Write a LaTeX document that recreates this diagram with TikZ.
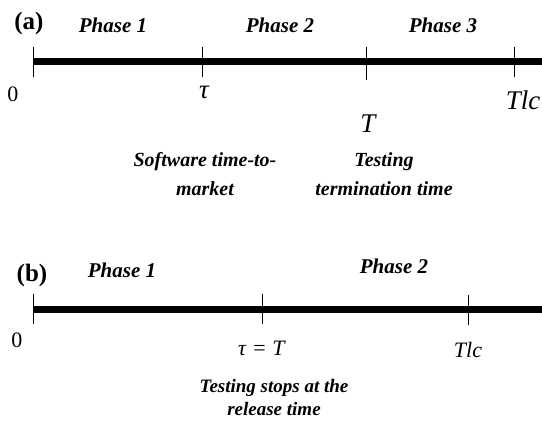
\documentclass[tikz,border=0pt]{standalone}
\usepackage{fontspec}
\setmainfont{Liberation Serif}
\begin{document}
\begin{tikzpicture}[x=1pt,y=-1pt,
  axis/.style={line width=7pt},
  tick/.style={line width=1pt},
  lab/.style={inner sep=0pt,anchor=base,font=\fontsize{21}{24}\selectfont\bfseries\itshape},
  panel/.style={inner sep=0pt,anchor=base,font=\fontsize{25}{28}\selectfont\bfseries},
  num/.style={inner sep=0pt,anchor=base,font=\fontsize{22}{24}\selectfont},
  mth/.style={inner sep=0pt,anchor=base,font=\fontsize{27}{30}\selectfont\itshape},
  mthb/.style={inner sep=0pt,anchor=base,font=\fontsize{22}{26}\selectfont},
  desca/.style={inner sep=0pt,anchor=base,align=center,font=\fontsize{20}{29}\selectfont\bfseries\itshape},
  descb/.style={inner sep=0pt,anchor=base,align=center,font=\fontsize{19}{22.5}\selectfont\bfseries\itshape}]
\useasboundingbox (0,0) rectangle (542,423);
% panel (a)
\coordinate (a0) at (33,61);
\coordinate (aend) at (542,61);
\draw[axis] (a0) -- (aend);
\coordinate (at0t) at (33,47); \coordinate (at0b) at (33,77);
\coordinate (at1t) at (202,47); \coordinate (at1b) at (202,77);
\coordinate (at2t) at (366,47); \coordinate (at2b) at (366,80);
\coordinate (at3t) at (514,47); \coordinate (at3b) at (514,77);
\draw[tick] (at0t) -- (at0b);
\draw[tick] (at1t) -- (at1b);
\draw[tick] (at2t) -- (at2b);
\draw[tick] (at3t) -- (at3b);
\node[panel] (pa) at (29,29) {(a)};
\node[lab] (ap1) at (113,32) {Phase 1};
\node[lab] (ap2) at (280,32) {Phase 2};
\node[lab] (ap3) at (443,32) {Phase 3};
\node[num] (a0l) at (13,101) {0};
\node[mth] (atau) at (204,98) {τ};
\node[mth] (aT) at (368,132) {T};
\node[mth] (aTlc) at (523,110) {Tlc};
\node[desca] (ad1) at (205,195) {Software time-to-\\market};
\node[desca] (ad2) at (384,195) {Testing\\termination time};
% panel (b)
\coordinate (b0) at (33,309);
\coordinate (bend) at (542,309);
\draw[axis] (b0) -- (bend);
\coordinate (bt0t) at (33,294); \coordinate (bt0b) at (33,324);
\coordinate (bt1t) at (262,294); \coordinate (bt1b) at (262,324);
\coordinate (bt2t) at (468,295); \coordinate (bt2b) at (468,325);
\draw[tick] (bt0t) -- (bt0b);
\draw[tick] (bt1t) -- (bt1b);
\draw[tick] (bt2t) -- (bt2b);
\node[panel] (pb) at (32,281) {(b)};
\node[lab] (bp1) at (122,277) {Phase 1};
\node[lab] (bp2) at (394,273) {Phase 2};
\node[num] (b0l) at (17,347) {0};
\node[mthb] (btau) at (262,355) {\textit{τ}\hspace{0.3em}=\hspace{0.3em}\textit{T}};
\node[mthb] (bTlc) at (468,357) {\textit{Tlc}};
\node[descb] (bd) at (274,415) {Testing stops at the\\release time};
\end{tikzpicture}
\end{document}
